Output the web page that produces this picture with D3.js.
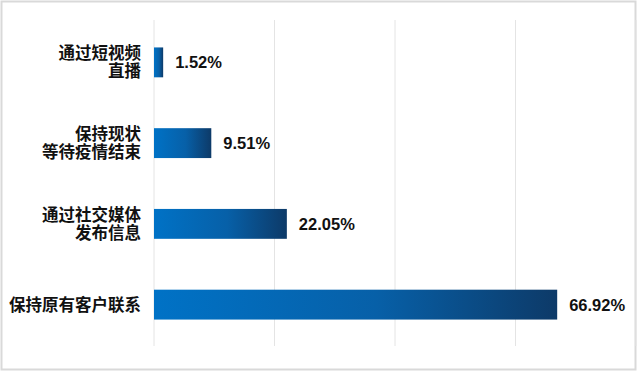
<!DOCTYPE html>
<html>
<head>
<meta charset="utf-8">
<script src="https://cdn.jsdelivr.net/npm/d3@7"></script>
<style>
  html, body { margin: 0; padding: 0; background: #fff; }
</style>
</head>
<body>
<svg width="640" height="382"></svg>
<script>
// data
const categories = [["通过短视频", "直播"], ["保持现状", "等待疫情结束"], ["通过社交媒体", "发布信息"], ["保持原有客户联系"]];
const values = [1.52, 9.51, 22.05, 66.92];
const valueLabels = ["1.52%", "9.51%", "22.05%", "66.92%"];
const xTicks = [0, 20, 40, 60, 80];

const svg = d3.select("svg");

// outer frame
svg.append("rect")
  .attr("x", 1.5).attr("y", 1.5)
  .attr("width", 634).attr("height", 368)
  .attr("fill", "#fff")
  .attr("stroke", "#d9d9d9")
  .attr("stroke-width", 2);

const x = d3.scaleLinear().domain([0, 80]).range([154, 636]);
const y = d3.scaleBand()
  .domain(d3.range(categories.length))
  .range([22, 345])
  .paddingInner(0.63)
  .paddingOuter(0.315);

// gradient for bars
const defs = svg.append("defs");
const grad = defs.append("linearGradient")
  .attr("id", "barGrad")
  .attr("x1", "0%").attr("x2", "100%")
  .attr("y1", "0%").attr("y2", "0%");
grad.append("stop").attr("offset", "0%").attr("stop-color", "#0072c6");
grad.append("stop").attr("offset", "55%").attr("stop-color", "#0760a8");
grad.append("stop").attr("offset", "100%").attr("stop-color", "#0d3a68");

// gridlines
svg.append("g")
  .selectAll("line")
  .data(xTicks)
  .join("line")
    .attr("x1", d => x(d)).attr("x2", d => x(d))
    .attr("y1", 20).attr("y2", 346)
    .attr("stroke", "#e4e4e4")
    .attr("stroke-width", 1);

// bars
svg.append("g")
  .selectAll("rect")
  .data(values)
  .join("rect")
    .attr("x", x(0))
    .attr("y", (d, i) => y(i))
    .attr("width", d => x(d) - x(0))
    .attr("height", y.bandwidth())
    .attr("fill", "url(#barGrad)");

// value labels
svg.append("g")
  .selectAll("text")
  .data(values)
  .join("text")
    .attr("x", d => x(d) + 12)
    .attr("y", (d, i) => y(i) + y.bandwidth() / 2)
    .attr("dy", "0.36em")
    .attr("font-family", "Arial, 'Liberation Sans', sans-serif")
    .attr("font-weight", "bold")
    .attr("font-size", "16.5px")
    .attr("fill", "#111")
    .text((d, i) => valueLabels[i]);

// category labels
const cat = svg.append("g")
  .selectAll("text")
  .data(categories)
  .join("text")
    .attr("text-anchor", "end")
    .attr("font-family", "'Noto Sans CJK SC', sans-serif")
    .attr("font-weight", "bold")
    .attr("font-size", "16.5px")
    .attr("fill", "#111");

cat.each(function(lines, i) {
  const cy = y(i) + y.bandwidth() / 2;
  const lh = 18;
  const top = cy - (lines.length - 1) * lh / 2;
  d3.select(this).selectAll("tspan")
    .data(lines)
    .join("tspan")
      .attr("x", 141)
      .attr("y", (d, j) => top + j * lh)
      .attr("dy", "0.36em")
      .text(d => d);
});
</script>
</body>
</html>
